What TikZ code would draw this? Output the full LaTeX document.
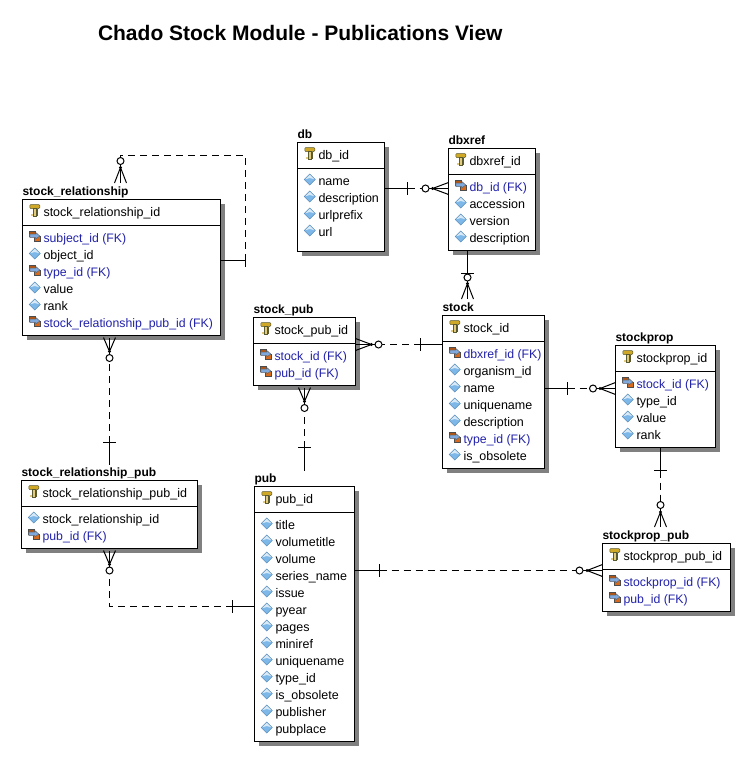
\documentclass[tikz,border=0pt]{standalone}
\usepackage{fontspec}
\setmainfont{Liberation Sans}
\usetikzlibrary{calc}
\definecolor{fkblue}{HTML}{2222AA}
\definecolor{ershadow}{HTML}{808080}
\definecolor{dia}{HTML}{7DB8E8}
\definecolor{diaedge}{HTML}{5A8FBF}
\definecolor{gold}{HTML}{D0A828}
\definecolor{keyedge}{HTML}{5A5A30}
\definecolor{fkorange}{HTML}{D86A1C}
\definecolor{fkb}{HTML}{7FA8DC}
\tikzset{
  x=1pt,y=-1pt,
  tbl/.style={draw=black,line width=1pt,fill=white,inner sep=0pt,outer sep=0pt},
  ertext/.style={inner sep=0pt,outer sep=0pt,anchor=base west,font=\fontsize{12.5}{14}\selectfont},
  erd/.style={ertext,text=black},
  erf/.style={ertext,text=fkblue,font=\fontsize{12.3}{14}\selectfont},
  ertitle/.style={ertext,font=\fontsize{12}{14}\selectfont\bfseries},
  rel/.style={draw=black,line width=1pt},
  reld/.style={rel,dash pattern=on 7pt off 5pt},
  icd/.pic={
    \fill[dia] (-5.5,0)--(0,-5.5)--(5.5,0)--(0,5.5)--cycle;
    \fill[white!70!dia] (-5.5,0)--(0,-5.5)--(5.5,0)--(0,-1.5)--cycle;
    \draw[diaedge,line width=0.6pt] (-5.5,0)--(0,-5.5)--(5.5,0)--(0,5.5)--cycle;
  },
  icf/.pic={
    \fill[fkorange!80!black,draw=black!70,line width=0.5pt] (-5.5,-5.5) rectangle (0.5,-0.5);
    \fill[fkorange,draw=black!70,line width=0.5pt] (-0.5,-0.5) rectangle (5.5,5);
    \fill[fkb,draw=black!60,line width=0.5pt] (-5,-2.5) -- (1,-2.5) -- (1,-4) -- (5,-0.5) -- (1,2.5) -- (1,1) -- (-5,1) -- cycle;
  },
  ick/.pic={
    \fill[gold,draw=keyedge,line width=0.5pt,rounded corners=1pt] (-5,-6) rectangle (5,-2);
    \fill[gold!60!white,draw=keyedge,line width=0.5pt] (-2,-2) rectangle (1.5,5.5);
    \fill[keyedge] (1.5,-2) rectangle (3,5);
    \fill[gold!60!white] (-3.5,3.5) rectangle (-2,5.5);
  },
}
% name, title, left, top, right, bottom, primary key, rows
\newcommand\ertable[8]{
  \fill[ershadow] (#3+4.5,#4+4.5) rectangle (#5+4.5,#6+4.5);
  \node[tbl,minimum width={(#5-#3)*1pt},minimum height={(#6-#4)*1pt}] (#1) at ({(#3+#5)/2},{(#4+#6)/2}) {};
  \draw[line width=1pt] ($(#1.north west)+(0,25.5)$) -- ($(#1.north east)+(0,25.5)$);
  \node[ertitle] (#1-title) at ($(#1.north west)+(0,-4.5)$) {#2};
  \pic at ($(#1.north west)+(12.3,11)$) {ick};
  \node[erd] (#1-pk) at ($(#1.north west)+(21,17)$) {#7};
  \foreach \rowkind/\rowtxt [count=\rowidx] in {#8}{
    \pic at ($(#1.north west)+(12.3,{37+17*(\rowidx-1)})$) {ic\rowkind};
    \node[er\rowkind] (#1-r\rowidx) at ($(#1.north west)+(21,{42.5+17*(\rowidx-1)})$) {\rowtxt};
  }
}
% start, foot end, bar, circle, dot, foot perpendicular, dashed path operator, bar perpendicular
\newcommand\erlink[8]{
  \draw[rel] (#1) -- (#3);
  \draw[rel] ($(#3)-6.5*(#8)$) -- ($(#3)+6.5*(#8)$);
  \draw[reld] (#3) #7 (#4);
  \draw[rel] (#4) -- (#5);
  \draw[rel,fill=white] (#4) circle (3.5);
  \fill (#5) circle (1.7);
  \draw[rel] (#5) -- (#2);
  \draw[rel] (#5) -- ($(#2)-6*(#6)$);
  \draw[rel] (#5) -- ($(#2)+6*(#6)$);
}
\begin{document}
\begin{tikzpicture}
\useasboundingbox[fill=white] (0,0) rectangle (752,763);
\node[ertext,font=\fontsize{21}{24}\selectfont\bfseries,text=black] (maintitle) at (98,40) {Chado Stock Module - Publications View};

\ertable{stockrel}{stock\_relationship}{22.5}{199.5}{220.5}{335.5}{stock\_relationship\_id}
 {f/subject\_id (FK),d/object\_id,f/type\_id (FK),d/value,d/rank,f/stock\_relationship\_pub\_id (FK)}
\ertable{db}{db}{297.5}{142.5}{384.5}{251.5}{db\_id}
 {d/name,d/description,d/urlprefix,d/url}
\ertable{dbxref}{dbxref}{448.5}{148.5}{535.5}{250.5}{dbxref\_id}
 {f/db\_id (FK),d/accession,d/version,d/description}
\ertable{stock}{stock}{442.5}{315.5}{544.5}{468.5}{stock\_id}
 {f/dbxref\_id (FK),d/organism\_id,d/name,d/uniquename,d/description,f/type\_id (FK),d/is\_obsolete}
\ertable{stockpub}{stock\_pub}{253.5}{317.5}{355.5}{385.5}{stock\_pub\_id}
 {f/stock\_id (FK),f/pub\_id (FK)}
\ertable{stockprop}{stockprop}{615.5}{345.5}{715.5}{447.5}{stockprop\_id}
 {f/stock\_id (FK),d/type\_id,d/value,d/rank}
\ertable{stockproppub}{stockprop\_pub}{602.5}{543.5}{730.5}{611.5}{stockprop\_pub\_id}
 {f/stockprop\_id (FK),f/pub\_id (FK)}
\ertable{srpub}{stock\_relationship\_pub}{21.5}{480.5}{197.5}{548.5}{stock\_relationship\_pub\_id}
 {d/stock\_relationship\_id,f/pub\_id (FK)}
\ertable{pub}{pub}{254.5}{486.5}{354.5}{741.5}{pub\_id}
 {d/title,d/volumetitle,d/volume,d/series\_name,d/issue,d/pyear,d/pages,d/miniref,d/uniquename,d/type\_id,d/is\_obsolete,d/publisher,d/pubplace}

% self reference of stock_relationship
\erlink{stockrel.east |- 0,260.5}{$(stockrel.north -| 120.5,0)+(0,-16.5)$}{245.5,260.5}{120.5,161}{120.5,167.5}{1,0}{-- (245.5,155.5) -- (120.5,155.5) --}{0,1}
% db -> dbxref
\erlink{db.east |- 0,188.5}{dbxref.west |- 0,188.5}{407.5,188.5}{425.5,188.5}{432.5,188.5}{0,1}{--}{0,1}
% dbxref -> stock
\erlink{dbxref.south -| 467.5,0}{$(stock.north -| 467.5,0)+(0,-16.5)$}{467.5,273.5}{467.5,277.5}{467.5,283.5}{1,0}{--}{1,0}
% stock -> stock_pub
\erlink{stock.west |- 0,344.5}{stockpub.east |- 0,344.5}{420.5,344.5}{378.5,344.5}{371.5,344.5}{0,1}{--}{0,1}
% pub -> stock_pub
\erlink{$(pub.north -| 304.5,0)+(0,-16)$}{$(stockpub.south -| 304.5,0)+(0,2)$}{304.5,447.5}{304.5,408}{304.5,401.5}{1,0}{--}{1,0}
% stock -> stockprop
\erlink{stock.east |- 0,388.5}{stockprop.west |- 0,388.5}{567.5,388.5}{593,388.5}{600,388.5}{0,1}{--}{0,1}
% stockprop -> stockprop_pub
\erlink{stockprop.south -| 660.5,0}{$(stockproppub.north -| 660.5,0)+(0,-16.5)$}{660.5,470.5}{660.5,505}{660.5,512}{1,0}{--}{1,0}
% pub -> stockprop_pub
\erlink{pub.east |- 0,570.5}{stockproppub.west |- 0,570.5}{379.5,570.5}{579.5,570.5}{587,570.5}{0,1}{--}{0,1}
% stock_relationship_pub -> stock_relationship
\erlink{$(srpub.north -| 109.5,0)+(0,-16)$}{$(stockrel.south -| 109.5,0)+(0,2)$}{109.5,442.5}{109.5,358}{109.5,351.5}{1,0}{--}{1,0}
% pub -> stock_relationship_pub
\erlink{pub.west |- 0,606.5}{$(srpub.south -| 109.5,0)+(0,2)$}{232.5,606.5}{109.5,570.5}{109.5,564.5}{1,0}{-- (109.5,606.5) --}{0,1}
\end{tikzpicture}
\end{document}
